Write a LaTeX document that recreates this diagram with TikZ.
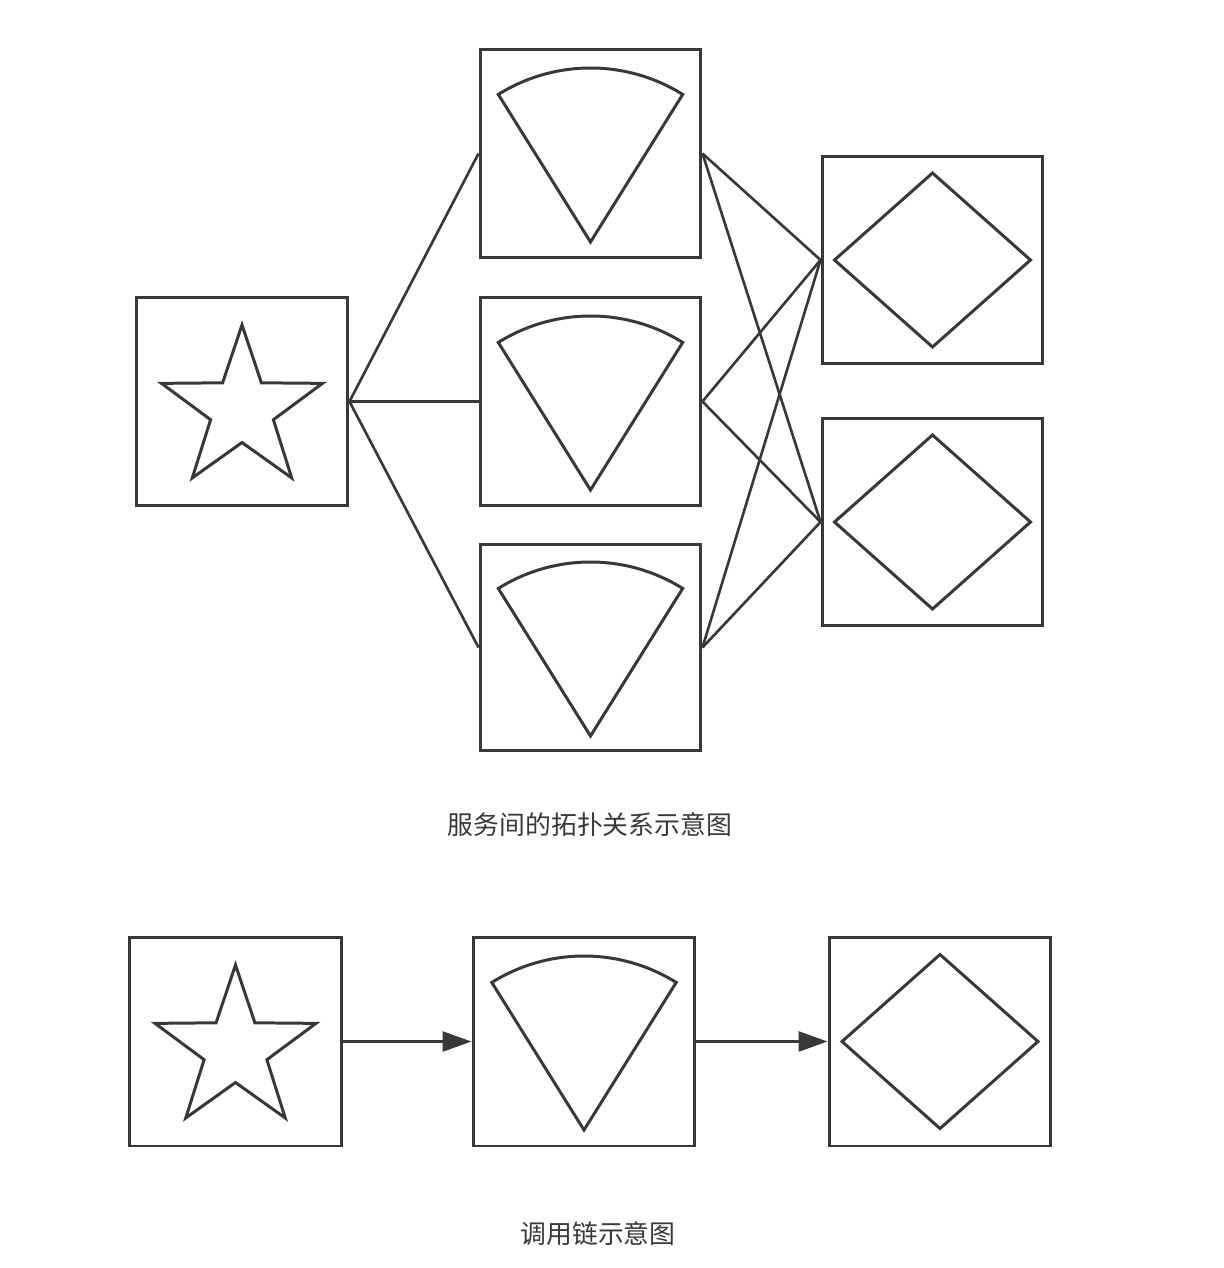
\documentclass[tikz,border=0pt]{standalone}
\usepackage{fontspec}
\setmainfont{Noto Sans CJK SC}
\usetikzlibrary{positioning,calc,arrows.meta}

\definecolor{inkgray}{HTML}{383838}

% marks drawn inside the boxes
\newcommand\starmark[1]{\draw[mark line] ($(#1.center)+(0,-8)$) +(90:84.6) -- +(126:33) -- +(162:84.6) -- +(198:33) -- +(234:84.6) -- +(270:33) -- +(306:84.6) -- +(342:33) -- +(18:84.6) -- +(54:33) -- cycle;}
\newcommand\fanmark[1]{\draw[mark line] ($(#1.center)+(0,-88.5)$) -- +(58:174) arc[start angle=58, end angle=122, radius=174] -- cycle;}
\newcommand\diamondmark[1]{\draw[mark line] (#1.center) +(0,87) -- +(98,0) -- +(0,-87) -- +(-98,0) -- cycle;}

\begin{document}
\begin{tikzpicture}[x=0.02cm, y=0.02cm, line width=1.7pt, draw=inkgray,
    svcbox/.style={draw=inkgray, line width=1.7pt, inner sep=0pt,
      minimum width=4.42cm, minimum height=4.18cm},
    mark line/.style={draw=inkgray, line width=1.7pt, line join=miter},
    link/.style={draw=inkgray, line width=1.5pt},
    caption/.style={text=inkgray, font=\fontsize{14.7}{18}\selectfont}]
    \useasboundingbox (0,0) rectangle (1224,-1268);
    % topology
    \node[svcbox, minimum width=4.24cm] (src) at (242,-401.5) {};%
    \node[svcbox] (mid1) at (590.5,-153.5) {};%
    \node[svcbox] (mid2) at (590.5,-401.5) {};%
    \node[svcbox, minimum height=4.14cm] (mid3) at (590.5,-647.5) {};%
    \node[svcbox, minimum height=4.16cm] (dst1) at (932.5,-260) {};%
    \node[svcbox, minimum height=4.16cm] (dst2) at (932.5,-522) {};%
    \starmark{src}
    \fanmark{mid1} \fanmark{mid2} \fanmark{mid3}
    \diamondmark{dst1} \diamondmark{dst2}
    \foreach \m in {mid1,mid2,mid3} {
      \draw[link] (src.east) -- (\m.west);
      \draw[link] (\m.east) -- (dst1.west);
      \draw[link] (\m.east) -- (dst2.west);
    }
    \node[caption] (topocap) at (590,-825) {服务间的拓扑关系示意图};%
    % call chain
    \node[svcbox, minimum width=4.26cm] (cstar) at (235.5,-1041.5) {};%
    \node[svcbox, minimum width=4.44cm] (cmid) at (584,-1041.5) {};%
    \node[svcbox, minimum width=4.44cm] (cdst) at (940,-1041.5) {};%
    \starmark{cstar} \fanmark{cmid} \diamondmark{cdst}
    \path[link, -{Triangle[length=0.58cm, width=0.4cm]}] (cstar) edge (cmid)
    (cmid) edge (cdst);
    \node[caption] (chaincap) at (598,-1234) {调用链示意图};%
  \end{tikzpicture}
\end{document}
